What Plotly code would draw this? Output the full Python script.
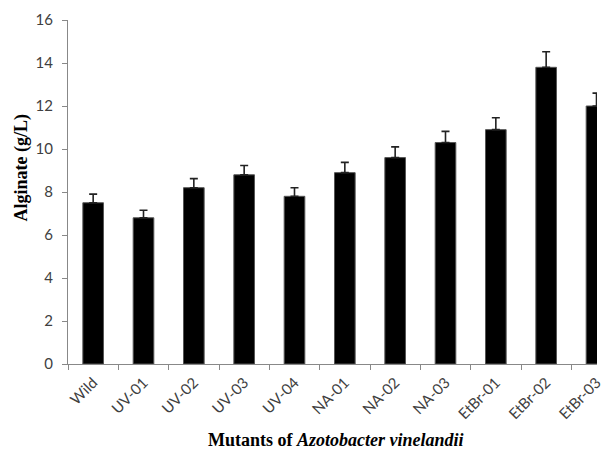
import plotly.graph_objects as go

# Alginate production by wild strain and mutants
strains = ["Wild", "UV-01", "UV-02", "UV-03", "UV-04", "NA-01", "NA-02",
           "NA-03", "EtBr-01", "EtBr-02", "EtBr-03"]
alginate = [7.5, 6.8, 8.2, 8.8, 7.8, 8.9, 9.6, 10.3, 10.9, 13.8, 12.0]
alginate_err = [0.4, 0.35, 0.42, 0.43, 0.4, 0.48, 0.5, 0.52, 0.55, 0.72, 0.6]
y_ticks = [0, 2, 4, 6, 8, 10, 12, 14, 16]

fig = go.Figure(
    go.Bar(
        x=strains,
        y=alginate,
        marker=dict(color="black", line=dict(color="#555555", width=1)),
        error_y=dict(type="data", array=alginate_err, arrayminus=[0] * len(alginate_err),
                     symmetric=False, color="#222222", thickness=1.6, width=4),
    )
)

tick_font = dict(family="Lato, Liberation Sans, sans-serif", size=15, color="#404040")
title_font = dict(family="Liberation Serif, Times New Roman, serif", size=18, color="black")

fig.update_layout(
    width=604, height=450,
    margin=dict(l=68, r=0, t=20, b=86),
    plot_bgcolor="white", paper_bgcolor="white",
    bargap=0.59,
    showlegend=False,
    xaxis=dict(
        range=[-0.5, 10.01],
        tickangle=-45,
        tickfont=tick_font,
        ticks="outside", ticklen=5, tickcolor="#888888",
        tickson="boundaries",
        ticklabelstandoff=3,
        showline=True, linecolor="#888888", linewidth=1,
        showgrid=False, zeroline=False,
    ),
    yaxis=dict(
        range=[0, 16],
        tickvals=y_ticks,
        tickfont=tick_font,
        ticks="outside", ticklen=5, tickcolor="#888888",
        ticklabelstandoff=6,
        showline=True, linecolor="#888888", linewidth=1,
        showgrid=False, zeroline=False,
    ),
    annotations=[
        dict(text="<b>Alginate (g/L)</b>", textangle=-90, font=title_font,
             xref="paper", yref="paper", x=-0.0877, y=0.57,
             xanchor="center", yanchor="middle", showarrow=False),
        dict(text="<b>Mutants of <i>Azotobacter vinelandii</i></b>", font=title_font,
             xref="paper", yref="paper", x=0.507, y=-0.221,
             xanchor="center", yanchor="middle", showarrow=False),
    ],
)

fig.write_html("out.html")
